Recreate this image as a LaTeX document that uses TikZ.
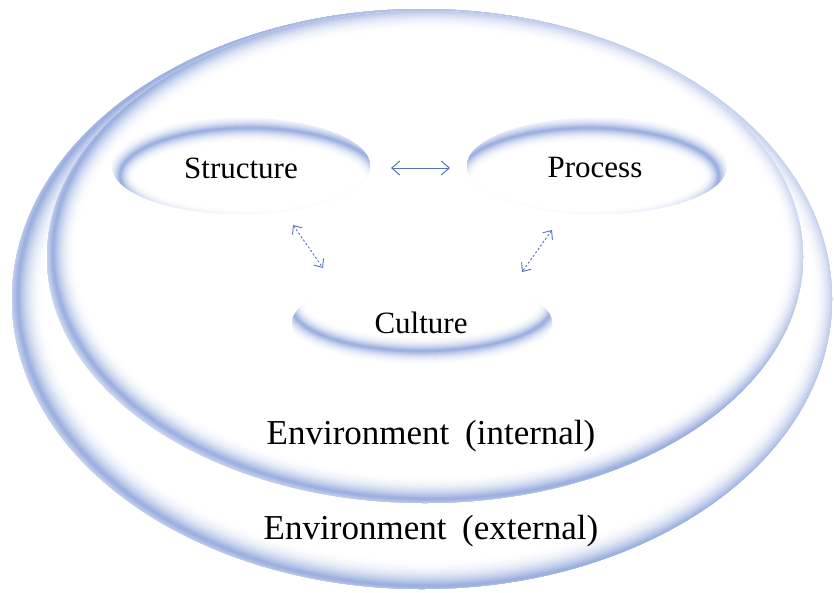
\documentclass[tikz,border=0pt]{standalone}
\usepackage{fontspec}
\setmainfont{Liberation Serif}
\usetikzlibrary{arrows.meta}
\definecolor{bandblue}{RGB}{118,146,212}
\definecolor{arrowblue}{RGB}{85,115,185}
\newcommand\glowellipse[7]{%
  \begin{scope}
    \clip (#1,#2) ellipse [x radius=#3pt, y radius=#4pt];
    \fill[white] (#1,#2) ellipse [x radius=#3pt, y radius=#4pt];
    \foreach \k in {0,...,29}{
      \pgfmathsetmacro\lw{2*#5*(1-\k/30)+0.6}
      \pgfmathsetmacro\pc{72*(\k/29)^2.2}
      \draw[line width=\lw pt, draw=bandblue!\pc!white, shift={(#6,#7)}] (#1,#2) ellipse [x radius=#3pt, y radius=#4pt];
    }
  \end{scope}
}
\tikzset{
  lbl/.style={font=\fontsize{31}{36}\selectfont, anchor=base, inner sep=0pt},
  envlbl/.style={font=\fontsize{35}{40}\selectfont, anchor=base, inner sep=0pt},
  solidarrow/.style={arrowblue, line width=1pt, {Straight Barb[length=8pt,width=14pt]}-{Straight Barb[length=8pt,width=14pt]}},
  dasharrow/.style={arrowblue, line width=0.9pt, dash pattern=on 2.2pt off 2pt, {Straight Barb[length=7pt,width=12pt]}-{Straight Barb[length=7pt,width=12pt]}}
}
\begin{document}
\begin{tikzpicture}[x=1pt,y=-1pt]
\useasboundingbox (0,0) rectangle (834,592);
\fill[white] (0,0) rectangle (834,592);
% outer (external) and inner (internal) environments
\glowellipse{422}{299}{410}{290}{27}{6}{-3}
\glowellipse{425}{257}{378}{246}{24}{6}{-4}
% structure, process, culture
\glowellipse{241}{166}{129}{48}{15}{8}{10}
\glowellipse{597}{166}{130}{48}{15}{-8}{10}
\glowellipse{422}{323}{130}{44}{15}{0}{-16}
% labels
\node[lbl] (structure) at (241,178) {Structure};
\node[lbl] (process) at (595,177) {Process};
\node[lbl] (culture) at (421,333) {Culture};
\node[envlbl] (envint) at (431,444) {Environment\hspace{0.45em}(internal)};
\node[envlbl] (envext) at (431,539) {Environment\hspace{0.45em}(external)};
% arrows
\coordinate (hL) at (391,168);
\coordinate (hR) at (450,168);
\coordinate (dLa) at (293,225);
\coordinate (dLb) at (323,268);
\coordinate (dRa) at (552,230);
\coordinate (dRb) at (522,272);
\draw[solidarrow] (hL) -- (hR);
\draw[dasharrow] (dLa) -- (dLb);
\draw[dasharrow] (dRa) -- (dRb);
\end{tikzpicture}
\end{document}
